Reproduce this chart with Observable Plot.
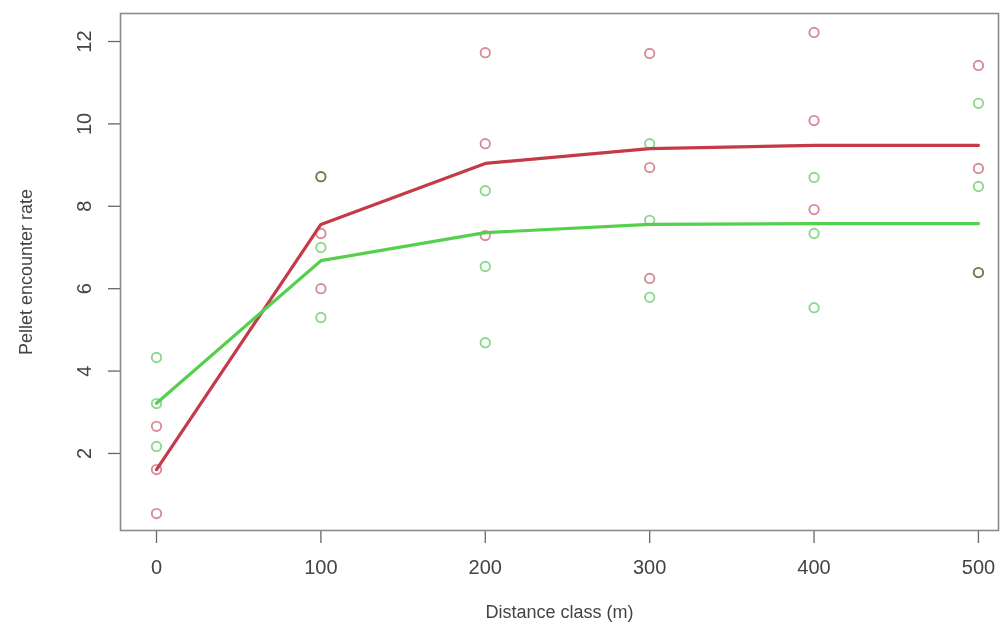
<!DOCTYPE html>
<html>
<head>
<meta charset="utf-8">
<script src="https://cdn.jsdelivr.net/npm/d3@7"></script>
<script src="https://cdn.jsdelivr.net/npm/@observablehq/plot@0.6"></script>
<style>
  html, body { margin: 0; padding: 0; background: #fff; }
  #chart svg { font-family: "Liberation Sans", Arial, sans-serif; }
  #chart svg g[aria-label="x-axis label"] text,
  #chart svg g[aria-label="y-axis label"] text { font-size: 18px; }
</style>
</head>
<body>
<div id="chart"></div>
<script>
// Distance classes (m)
const distances = [0, 100, 200, 300, 400, 500];

// Observed pellet encounter rates (three replicates per distance class)
const redObs = [
  [0.54, 1.61, 2.66],
  [6.00, 7.34, 8.72],
  [7.29, 9.52, 11.73],
  [6.25, 8.94, 11.71],
  [7.92, 10.08, 12.22],
  [6.39, 8.92, 11.42]
];
const greenObs = [
  [2.17, 3.21, 4.33],
  [5.30, 7.00, 8.72],
  [4.69, 6.54, 8.38],
  [5.79, 7.66, 9.52],
  [5.54, 7.34, 8.70],
  [6.39, 8.48, 10.50]
];

// Fitted curves
const redFit = [1.61, 7.56, 9.04, 9.40, 9.48, 9.48];
const greenFit = [3.22, 6.68, 7.36, 7.56, 7.58, 7.58];

const xTicks = [0, 100, 200, 300, 400, 500];
const yTicks = [2, 4, 6, 8, 10, 12];

const redPoint = "#d4808e";
const greenPoint = "#80d480";
const redLine = "#c43a46";
const greenLine = "#55d04c";

const points = [];
distances.forEach((d, i) => {
  redObs[i].forEach(v => points.push({distance: d, rate: v, group: "red"}));
  greenObs[i].forEach(v => points.push({distance: d, rate: v, group: "green"}));
});
const redCurve = distances.map((d, i) => ({distance: d, rate: redFit[i]}));
const greenCurve = distances.map((d, i) => ({distance: d, rate: greenFit[i]}));

const chart = Plot.plot({
  width: 1003,
  height: 626,
  marginLeft: 120,
  marginRight: 5,
  marginTop: 13,
  marginBottom: 96,
  style: {fontSize: "20px", color: "#444", background: "#fff"},
  x: {domain: [-21.9, 512.2]},
  y: {domain: [0.13, 12.68]},
  marks: [
    Plot.axisX({
      ticks: xTicks, tickSize: 13, tickPadding: 16, stroke: "#666", strokeWidth: 1.3,
      tickFormat: d => String(d), fill: "#444", fontSize: 20,
      label: "Distance class (m)", labelAnchor: "center", labelOffset: 87, labelArrow: "none"
    }),
    Plot.axisY({
      ticks: yTicks, tickSize: 12, tickPadding: 18, stroke: "#666", strokeWidth: 1.3,
      tickRotate: -90, textAnchor: "middle", lineAnchor: "bottom",
      tickFormat: d => String(d), fill: "#444", fontSize: 20,
      label: "Pellet encounter rate", labelAnchor: "center", labelOffset: 101, labelArrow: "none"
    }),
    Plot.dot(points, {
      x: "distance", y: "rate", r: 4.7, fill: "none",
      stroke: d => d.group === "red" ? redPoint : greenPoint,
      strokeWidth: 1.9, strokeOpacity: 0.9, mixBlendMode: "multiply"
    }),
    Plot.line(redCurve, {x: "distance", y: "rate", stroke: redLine, strokeWidth: 3.2}),
    Plot.line(greenCurve, {x: "distance", y: "rate", stroke: greenLine, strokeWidth: 3.2}),
    Plot.frame({stroke: "#8a8a8a", strokeWidth: 1.6})
  ]
});
document.getElementById("chart").appendChild(chart);
</script>
</body>
</html>
